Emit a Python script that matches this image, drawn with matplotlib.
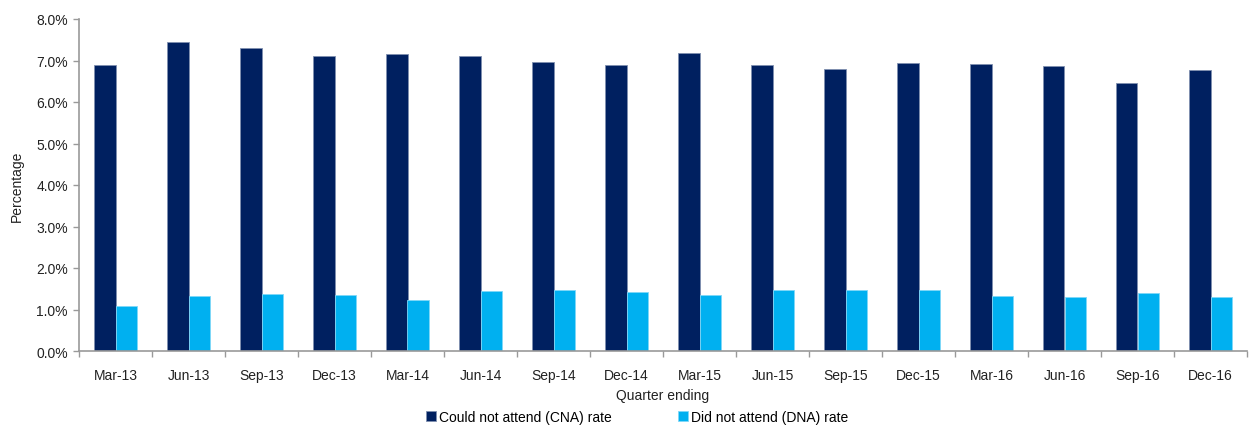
import matplotlib
matplotlib.use("Agg")
import matplotlib.pyplot as plt
import numpy as np
from matplotlib.ticker import FuncFormatter, FixedLocator

plt.rcParams['font.family'] = ['Liberation Sans', 'DejaVu Sans']

quarters = ["Mar-13", "Jun-13", "Sep-13", "Dec-13", "Mar-14", "Jun-14", "Sep-14", "Dec-14",
            "Mar-15", "Jun-15", "Sep-15", "Dec-15", "Mar-16", "Jun-16", "Sep-16", "Dec-16"]
cna_rate = [6.89, 7.45, 7.29, 7.11, 7.16, 7.11, 6.96, 6.89, 7.19, 6.90, 6.80, 6.94, 6.91, 6.86, 6.45, 6.77]
dna_rate = [1.09, 1.32, 1.37, 1.35, 1.23, 1.45, 1.47, 1.42, 1.35, 1.47, 1.46, 1.46, 1.33, 1.29, 1.40, 1.29]

W, H = 1251, 427
fig = plt.figure(figsize=(W/100, H/100), dpi=100)
ax = fig.add_axes([79/W, 1 - 352/H, (1247-79)/W, (352-20)/H])

x = np.arange(len(quarters))
w = 0.29
ax.bar(x - w/2, cna_rate, w, color="#002060", edgecolor="#8090B0", linewidth=0.6,
       label="Could not attend (CNA) rate")
ax.bar(x + w/2, dna_rate, w, color="#00B0F0", edgecolor="#80D8F8", linewidth=0.6,
       label="Did not attend (DNA) rate")

ax.set_xlim(-0.5, len(quarters) - 0.5)
ax.set_ylim(0, 8)
ax.set_yticks(np.arange(0, 8.01, 1))
ax.yaxis.set_major_formatter(FuncFormatter(lambda v, p: f"{v:.1f}%"))
ax.set_xticks(x)
ax.set_xticklabels(quarters)
ax.xaxis.set_minor_locator(FixedLocator(np.arange(-0.5, len(quarters), 1)))
ax.tick_params(axis='x', which='major', length=0, pad=12, labelsize=10, labelcolor="#222222")
ax.tick_params(axis='x', which='minor', length=4, color="#999999", width=1, direction='out')
ax.tick_params(axis='y', length=4, color="#999999", width=1, direction='out', labelsize=10,
               labelcolor="#222222", pad=4)

for s in ["top", "right"]:
    ax.spines[s].set_visible(False)
for s in ["left", "bottom"]:
    ax.spines[s].set_color("#999999")
    ax.spines[s].set_linewidth(1.2)

ax.set_ylabel("Percentage", fontsize=10, color="#222222")
ax.yaxis.set_label_coords(-(79-24)/(1247-79), 0.5)
ax.set_xlabel("Quarter ending", fontsize=10, color="#222222", va="center")
ax.xaxis.set_label_coords(0.5, -(396-352)/(352-20))

fig.legend(*ax.get_legend_handles_labels(), loc="center",
           bbox_to_anchor=(637/W, 1 - 418/H), ncol=2, frameon=False,
           fontsize=10, handlelength=0.7, handleheight=0.7, handletextpad=0.2,
           columnspacing=4.8, borderpad=0)

fig.savefig("out.png", dpi=100)
